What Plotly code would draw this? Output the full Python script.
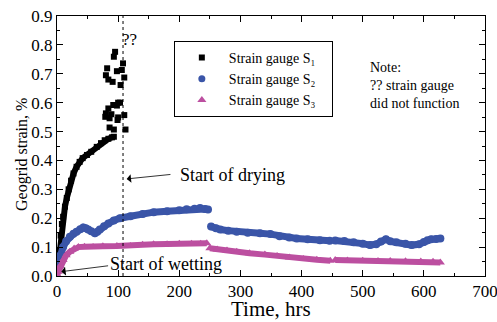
import plotly.graph_objects as go

# ---- data ----
s1_curve_t = [0, 2, 4, 6, 8, 10, 13, 16, 19, 23, 27, 32, 37, 42, 49, 56, 65, 72, 78, 84, 90, 93]
s1_curve_y = [0.0, 0.04, 0.09, 0.14, 0.18, 0.205, 0.24, 0.27, 0.30, 0.33, 0.355, 0.378, 0.395, 0.408, 0.419, 0.43, 0.447, 0.46, 0.47, 0.475, 0.48, 0.482]
s1_scatter_t = [82, 80, 84, 91, 95, 93, 98, 106, 108, 110, 104, 100, 103, 98, 92, 84, 80, 79, 86, 100, 99, 110, 86, 93, 112, 89]
s1_scatter_y = [0.719, 0.695, 0.68, 0.672, 0.776, 0.759, 0.709, 0.713, 0.736, 0.687, 0.661, 0.60, 0.60, 0.59, 0.592, 0.58, 0.563, 0.551, 0.546, 0.549, 0.54, 0.557, 0.514, 0.507, 0.507, 0.56]

s2_t_a = [0, 2, 5, 10, 15, 21, 27, 32, 38, 43, 47, 51, 56, 62, 66, 70, 77, 84, 93, 103, 120, 140, 158, 180, 200, 212, 225, 234, 242, 247]
s2_y_a = [0.03, 0.045, 0.07, 0.10, 0.12, 0.136, 0.146, 0.153, 0.162, 0.168, 0.165, 0.161, 0.155, 0.148, 0.153, 0.161, 0.172, 0.182, 0.192, 0.20, 0.207, 0.215, 0.221, 0.224, 0.228, 0.231, 0.233, 0.235, 0.232, 0.23]
s2_t_b = [252, 260, 267, 280, 294, 312, 332, 349, 364, 380, 392, 410, 430, 446]
s2_y_b = [0.171, 0.165, 0.161, 0.157, 0.153, 0.15, 0.148, 0.145, 0.138, 0.133, 0.13, 0.127, 0.124, 0.122]
s2_t_c = [455, 470, 485, 500, 512, 522, 530, 538, 545, 555, 570, 580, 592, 600, 606, 612, 620, 627]
s2_y_c = [0.123, 0.121, 0.117, 0.112, 0.107, 0.11, 0.119, 0.127, 0.12, 0.117, 0.112, 0.107, 0.11, 0.118, 0.124, 0.127, 0.128, 0.13]

s3_t_a = [0, 2, 5, 10, 15, 21, 28, 35, 45, 59, 75, 98, 120, 140, 158, 180, 200, 220, 235, 245]
s3_y_a = [0.005, 0.015, 0.035, 0.055, 0.072, 0.084, 0.095, 0.10, 0.101, 0.10, 0.103, 0.104, 0.104, 0.108, 0.11, 0.11, 0.112, 0.112, 0.112, 0.113]
s3_t_b = [250, 262, 278, 294, 315, 340, 360, 380, 403, 425, 447]
s3_y_b = [0.096, 0.092, 0.088, 0.084, 0.079, 0.074, 0.069, 0.064, 0.059, 0.056, 0.053]
s3_t_c = [455, 475, 500, 525, 545, 570, 595, 615, 627]
s3_y_c = [0.055, 0.054, 0.053, 0.052, 0.052, 0.051, 0.05, 0.049, 0.047]

series_names = ["Strain gauge S\u2081", "Strain gauge S\u2082", "Strain gauge S\u2083"]
x_ticks = [0, 100, 200, 300, 400, 500, 600, 700]
y_ticks = [0.0, 0.1, 0.2, 0.3, 0.4, 0.5, 0.6, 0.7, 0.8, 0.9]
drying_t = 108

BLACK = "#000000"
BLUE = "#3a55a8"
MAG = "#bc4fa0"
FONT = "Liberation Serif, Times New Roman, serif"
PAD = "&nbsp;&nbsp;&nbsp;"

fig = go.Figure()

# S1
fig.add_trace(go.Scatter(x=s1_scatter_t, y=s1_scatter_y, mode="markers",
                         marker=dict(symbol="square", size=6, color=BLACK),
                         name=series_names[0] + PAD, legendgroup="s1"))
fig.add_trace(go.Scatter(x=s1_curve_t, y=s1_curve_y, mode="lines+markers",
                         line=dict(color=BLACK, width=6),
                         marker=dict(symbol="square", size=6, color=BLACK),
                         showlegend=False, legendgroup="s1"))
# S2
for tt, yy in [(s2_t_a, s2_y_a), (s2_t_b, s2_y_b), (s2_t_c, s2_y_c)]:
    fig.add_trace(go.Scatter(x=tt, y=yy, mode="lines+markers",
                             line=dict(color=BLUE, width=7),
                             marker=dict(symbol="circle", size=8, color=BLUE),
                             legendgroup="s2", showlegend=False))
# S3
for tt, yy in [(s3_t_a, s3_y_a), (s3_t_b, s3_y_b), (s3_t_c, s3_y_c)]:
    fig.add_trace(go.Scatter(x=tt, y=yy, mode="lines+markers",
                             line=dict(color=MAG, width=6),
                             marker=dict(symbol="triangle-up", size=8, color=MAG),
                             legendgroup="s3", showlegend=False))
# legend-only entries for S2 / S3 markers
fig.add_trace(go.Scatter(x=[None], y=[None], mode="markers",
                         marker=dict(symbol="circle", size=7, color=BLUE),
                         name=series_names[1] + PAD, legendgroup="s2"))
fig.add_trace(go.Scatter(x=[None], y=[None], mode="markers",
                         marker=dict(symbol="triangle-up", size=8, color=MAG),
                         name=series_names[2] + PAD, legendgroup="s3"))

# dashed drying line
fig.add_shape(type="line", xref="x", yref="paper", x0=drying_t, x1=drying_t, y0=0, y1=1,
              line=dict(color=BLACK, width=1, dash="3px,3px"))

fig.add_annotation(x=103, y=0.82, xref="x", yref="y", text="??", showarrow=False,
                   xanchor="left", yanchor="middle", font=dict(family=FONT, size=17, color=BLACK))
fig.add_annotation(x=198, y=0.35, xref="x", yref="y", text="Start of drying", showarrow=False,
                   xanchor="left", yanchor="middle", font=dict(family=FONT, size=18, color=BLACK))
fig.add_annotation(x=114, y=0.336, ax=188, ay=0.352, xref="x", yref="y", axref="x", ayref="y",
                   text="", showarrow=True, arrowhead=1, arrowsize=1.8, arrowwidth=0.8, arrowcolor=BLACK)
fig.add_annotation(x=84, y=0.043, xref="x", yref="y", text="Start of wetting", showarrow=False,
                   xanchor="left", yanchor="middle", font=dict(family=FONT, size=18, color=BLACK))
fig.add_annotation(x=7, y=0.015, ax=86, ay=0.036, xref="x", yref="y", axref="x", ayref="y",
                   text="", showarrow=True, arrowhead=1, arrowsize=1.8, arrowwidth=0.8, arrowcolor=BLACK)
fig.add_annotation(x=508, y=0.66, xref="x", yref="y",
                   text="Note:<br>?? strain gauge<br>did not function", showarrow=False,
                   xanchor="left", yanchor="middle", align="left",
                   font=dict(family=FONT, size=14, color=BLACK))

# axis titles
fig.add_annotation(x=0.5, y=-0.128, xref="paper", yref="paper", text="Time, hrs", showarrow=False,
                   xanchor="center", yanchor="middle", font=dict(family=FONT, size=21, color=BLACK))
fig.add_annotation(x=-0.082, y=0.469, xref="paper", yref="paper", text="Geogrid strain, %",
                   showarrow=False, textangle=-90, xanchor="center", yanchor="middle",
                   font=dict(family=FONT, size=16, color=BLACK))

axis_common = dict(showgrid=False, zeroline=False, showline=True, linecolor=BLACK, linewidth=1,
                   mirror="allticks", ticks="inside", ticklen=6, tickwidth=1, tickcolor=BLACK,
                   automargin=False, ticklabeloverflow="allow",
                   tickfont=dict(family=FONT, size=17, color=BLACK))

fig.update_xaxes(range=[0, 700], tickvals=x_ticks, ticktext=[str(v) for v in x_ticks],
                 minor=dict(dtick=50, tick0=0, ticks="inside", ticklen=3, tickcolor=BLACK),
                 **axis_common)
fig.update_yaxes(range=[0, 0.9], tickvals=y_ticks, ticktext=[f"{v:.1f}" for v in y_ticks],
                 minor=dict(dtick=0.05, tick0=0, ticks="inside", ticklen=3, tickcolor=BLACK),
                 **axis_common)

fig.update_layout(
    width=497, height=322,
    margin=dict(l=57, r=12, t=16, b=46),
    font=dict(family=FONT, color=BLACK),
    paper_bgcolor="white", plot_bgcolor="white",
    legend=dict(x=0.273, y=0.904, xanchor="left", yanchor="top",
                bordercolor=BLACK, borderwidth=1, bgcolor="white",
                font=dict(family=FONT, size=14, color=BLACK), tracegroupgap=0,
                itemsizing="trace", itemwidth=44),
    showlegend=True,
)

fig.write_html("out.html", config={"displayModeBar": False},
               post_script="document.body.style.margin='0';document.body.style.overflow='hidden';")
